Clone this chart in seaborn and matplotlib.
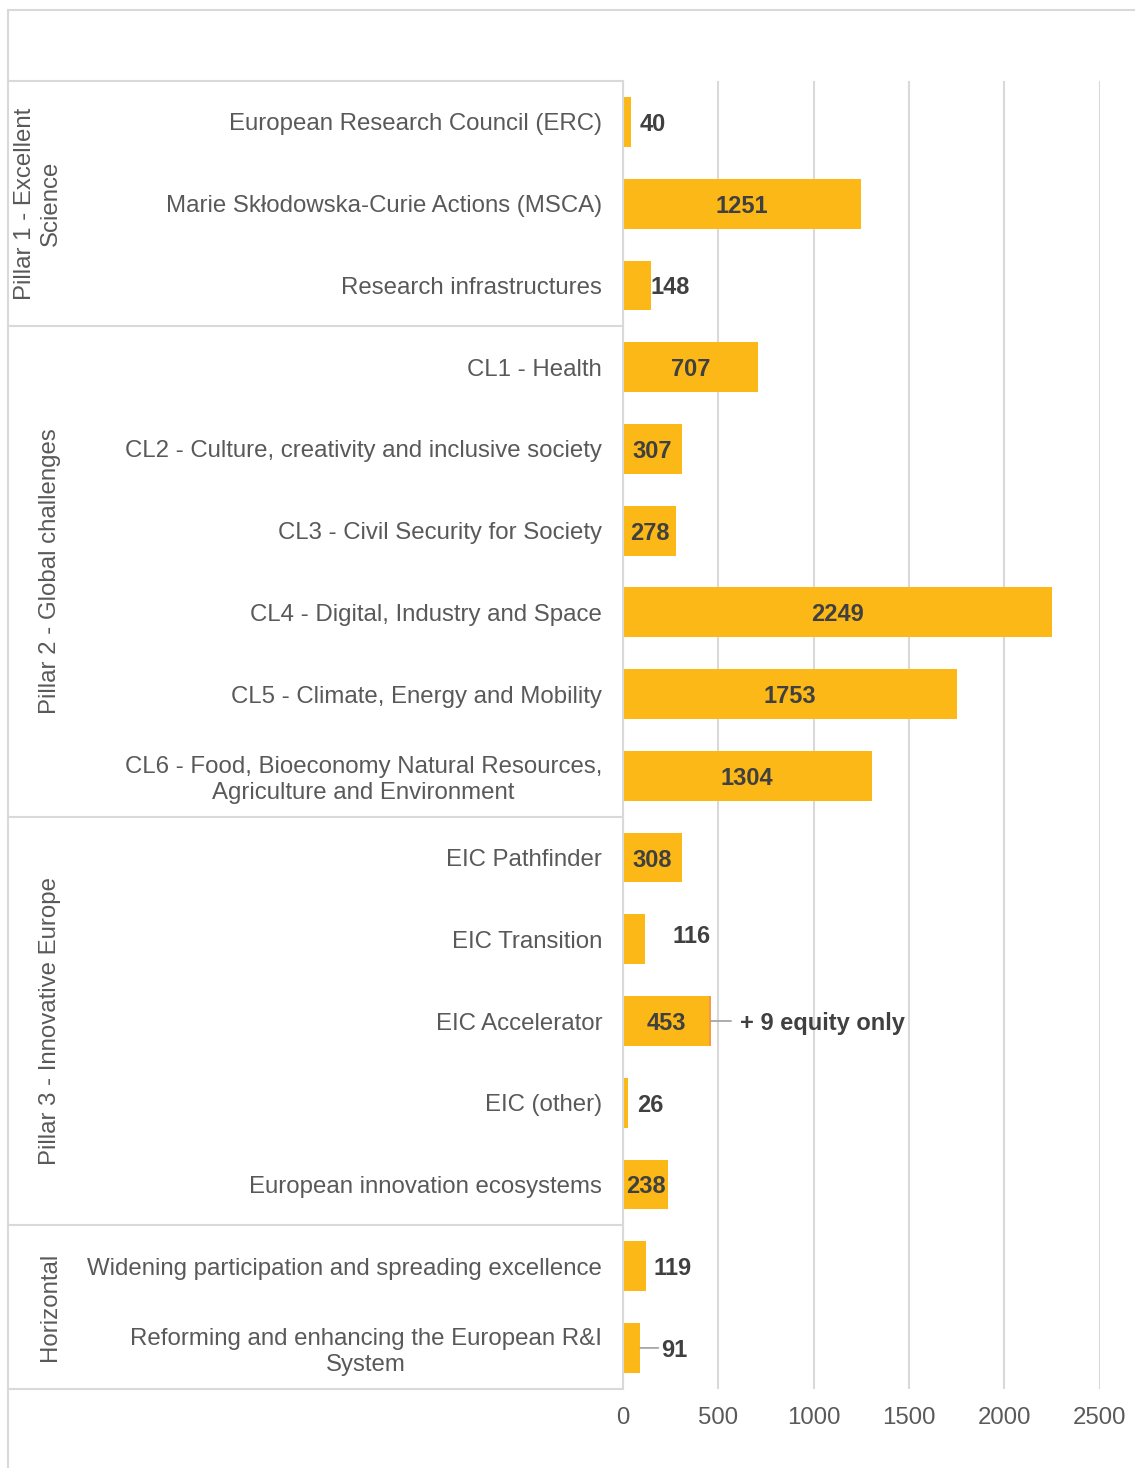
import pandas as pd
import matplotlib.pyplot as plt
from matplotlib.lines import Line2D
from matplotlib.transforms import blended_transform_factory
import seaborn as sns

# categories, top to bottom
categories = [
    "European Research Council (ERC)",
    "Marie Skłodowska-Curie Actions (MSCA)",
    "Research infrastructures",
    "CL1 - Health",
    "CL2 - Culture, creativity and inclusive society",
    "CL3 - Civil Security for Society",
    "CL4 - Digital, Industry and Space",
    "CL5 - Climate, Energy and Mobility",
    "CL6 - Food, Bioeconomy Natural Resources,\nAgriculture and Environment",
    "EIC Pathfinder",
    "EIC Transition",
    "EIC Accelerator",
    "EIC (other)",
    "European innovation ecosystems",
    "Widening participation and spreading excellence",
    "Reforming and enhancing the European R&I\nSystem",
]
values = [40, 1251, 148, 707, 307, 278, 2249, 1753, 1304, 308, 116, 453, 26, 238, 119, 91]
equity_only = [0, 0, 0, 0, 0, 0, 0, 0, 0, 0, 0, 9, 0, 0, 0, 0]

groups = ["Pillar 1 - Excellent\nScience", "Pillar 2 - Global challenges",
          "Pillar 3 - Innovative Europe", "Horizontal"]
group_sizes = [3, 6, 5, 2]

x_ticks = [0, 500, 1000, 1500, 2000, 2500]

GOLD = "#FBB817"
ORANGE = "#F39A45"
GRID = "#D9D9D9"
LABEL = "#595959"
VALUE = "#404040"
FS = 17.3

sns.set_style("white")
plt.rcParams["font.family"] = ["Liberation Sans", "DejaVu Sans"]

df = pd.DataFrame({"category": categories, "value": values,
                   "total": [v + e for v, e in zip(values, equity_only)]})

W, H = 1135, 1468
fig = plt.figure(figsize=(W / 100, H / 100), dpi=100)
ax = fig.add_axes([623 / W, 1 - 1388.8 / H, 476.5 / W, 1307.7 / H])

# stacked: total (with equity) underneath, grants on top
sns.barplot(data=df, x="total", y="category", color=ORANGE, width=0.61,
            linewidth=0, saturation=1, ax=ax)
sns.barplot(data=df, x="value", y="category", color=GOLD, width=0.61,
            linewidth=0, saturation=1, ax=ax)

ax.set_xlim(0, 2500)
ax.set_ylim(len(categories) - 0.5, -0.5)
ax.set_xlabel("")
ax.set_ylabel("")
ax.set_xticks(x_ticks)
ax.xaxis.grid(True, color=GRID, linewidth=1.5)
ax.yaxis.grid(False)
ax.set_axisbelow(True)
for s in ["top", "right", "bottom"]:
    ax.spines[s].set_visible(False)
ax.spines["left"].set_color(GRID)
ax.spines["left"].set_linewidth(1.5)
ax.tick_params(axis="y", length=0, pad=15, labelsize=FS, labelcolor=LABEL)
ax.tick_params(axis="x", length=0, pad=13, labelsize=FS, labelcolor=LABEL)
for t in ax.get_yticklabels():
    t.set_multialignment("center")


def leader(x, y, length_px):
    ax.annotate("", xy=(x, y), xytext=(length_px * 0.72, 0), textcoords="offset points",
                arrowprops=dict(arrowstyle="-", color="#A6A6A6", lw=1.3,
                                shrinkA=0, shrinkB=0))


# data labels: (left offset px from bar end, upward shift px); others centred in bar
outside = {0: (9, 0), 2: (-1, 0), 10: (27, 5), 12: (9, 0), 14: (8, 0), 15: (21, 0)}
for i, v in enumerate(values):
    lab = str(v)
    if i in outside:
        dx, dy = outside[i]
        ax.annotate(lab, xy=(v + equity_only[i], i), xytext=(dx * 0.72, dy * 0.72),
                    textcoords="offset points", ha="left", va="center_baseline",
                    fontsize=17, fontweight="bold", color=VALUE)
    else:
        ax.text(v / 2, i, lab, ha="center", va="center_baseline", fontsize=17,
                fontweight="bold", color=VALUE)
leader(values[15], 15, 18)

# equity-only note
for i, e in enumerate(equity_only):
    if e:
        ax.annotate(f"+ {e} equity only", xy=(values[i] + e, i), xytext=(29 * 0.72, 0),
                    textcoords="offset points", ha="left", va="center_baseline",
                    fontsize=17, fontweight="bold", color=VALUE)
        leader(values[i] + e, i, 20)

# group separators and group labels on the left
blend = blended_transform_factory(fig.transFigure, ax.transData)
edges = [-0.5]
for n in group_sizes:
    edges.append(edges[-1] + n)
for y in edges:
    fig.add_artist(Line2D([8 / W, 623 / W], [y, y], transform=blend,
                          color=GRID, linewidth=1.5))
for k, g in enumerate(groups):
    mid = (edges[k] + edges[k + 1]) / 2
    xg = 38 if "\n" in g else 50
    fig.text(xg / W, mid, g, transform=blend, rotation=90, ha="center", va="center",
             fontsize=FS, color=LABEL, multialignment="center")

# outer frame
fig.add_artist(Line2D([8 / W, 1], [1 - 10 / H, 1 - 10 / H], color=GRID, linewidth=1.5))
fig.add_artist(Line2D([8 / W, 8 / W], [0, 1 - 10 / H], color=GRID, linewidth=1.5))

fig.savefig("out.png", dpi=100)
